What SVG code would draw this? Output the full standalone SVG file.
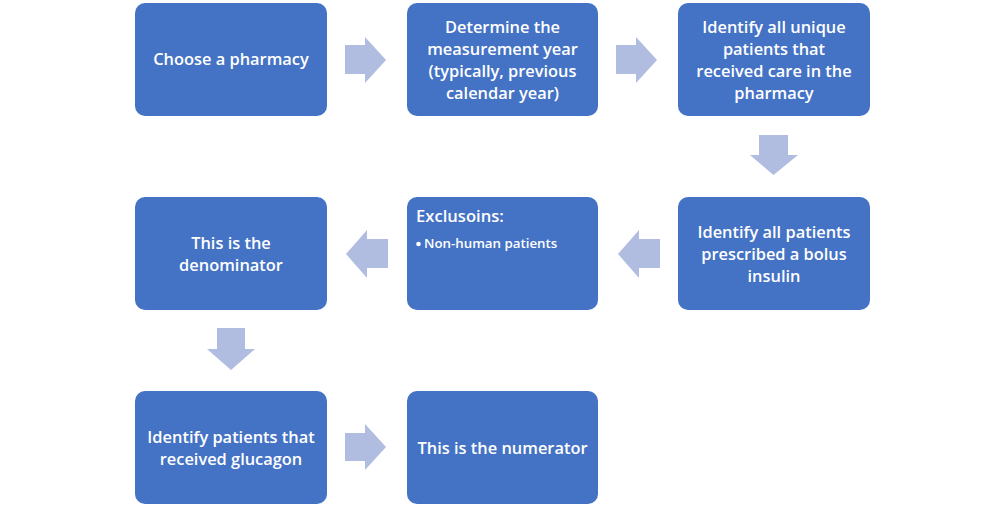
<svg xmlns="http://www.w3.org/2000/svg" width="1006" height="508" viewBox="0 0 1006 508">
<style>
.box{fill:#4472C4;}
.arr{fill:#B0BDE1;}
text{font-family:"Open Sans","Liberation Sans",Arial,sans-serif;fill:#fff;font-size:16.4px;font-weight:600;text-anchor:middle;dominant-baseline:central;}
.sm{font-size:13.3px;text-anchor:start;}
.hd{font-size:16.6px;text-anchor:start;}
</style>
<rect width="1006" height="508" fill="#fff"/>
<g id="connectors">
<polygon class="arr" points="345,45 365,45 365,37 386,60 365,83 365,74 345,74"/>
<polygon class="arr" points="616,45 636,45 636,37 657,60 636,83 636,74 616,74"/>
<polygon class="arr" points="759,135 788,135 788,155 798,155 773.5,175 750,155 759,155"/>
<polygon class="arr" points="660,239 639,239 639,230 618,254 639,278 639,268 660,268"/>
<polygon class="arr" points="388,239 367,239 367,230 346,254 367,278 367,268 388,268"/>
<polygon class="arr" points="217,328 245,328 245,349 255,349 231,370 207,349 217,349"/>
<polygon class="arr" points="345,433 365,433 365,424 386,447 365,470 365,461 345,461"/>
</g>
<g id="n1"><rect class="box" x="135" y="3" width="192" height="113" rx="10"/><text x="231" y="58">Choose a pharmacy</text></g>
<g id="n2"><rect class="box" x="407" y="3" width="191" height="113" rx="10"/>
<text x="502.5" y="26">Determine the</text><text x="502.5" y="48">measurement year</text><text x="502.5" y="70">(typically, previous</text><text x="502.5" y="92">calendar year)</text></g>
<g id="n3"><rect class="box" x="678" y="3" width="192" height="113" rx="10"/>
<text x="774" y="26">Identify all unique</text><text x="774" y="48">patients that</text><text x="774" y="70">received care in the</text><text x="774" y="92">pharmacy</text></g>
<g id="n4"><rect class="box" x="678" y="197" width="192" height="113" rx="10"/>
<text x="774" y="231">Identify all patients</text><text x="774" y="253">prescribed a bolus</text><text x="774" y="275">insulin</text></g>
<g id="n5"><rect class="box" x="407" y="197" width="191" height="113" rx="10"/>
<text class="hd" x="416" y="215">Exclusoins:</text>
<circle cx="418.5" cy="244" r="2.3" fill="#fff"/>
<text class="sm" x="424" y="243">Non-human patients</text></g>
<g id="n6"><rect class="box" x="135" y="197" width="192" height="113" rx="10"/>
<text x="231" y="242">This is the</text><text x="231" y="264">denominator</text></g>
<g id="n7"><rect class="box" x="135" y="391" width="192" height="113" rx="10"/>
<text x="231" y="436">Identify patients that</text><text x="231" y="458">received glucagon</text></g>
<g id="n8"><rect class="box" x="407" y="391" width="191" height="113" rx="10"/>
<text x="502.5" y="447">This is the numerator</text></g>
</svg>
